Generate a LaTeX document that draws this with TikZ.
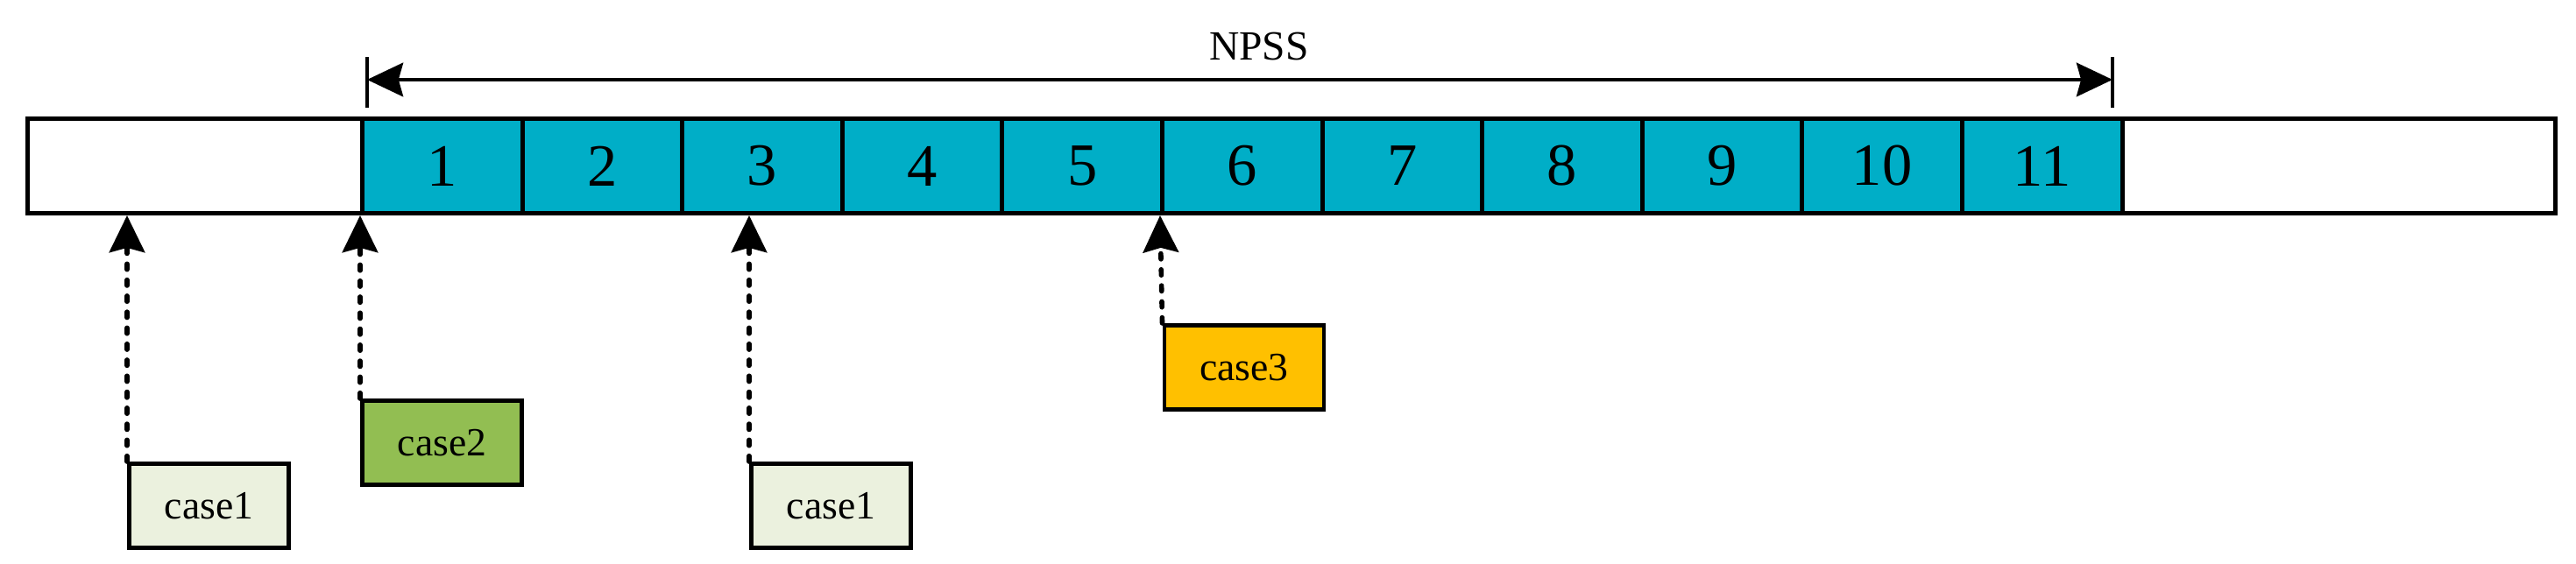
\documentclass[tikz,border=0pt]{standalone}
\usepackage{fontspec}
\setmainfont{Liberation Serif}
\usetikzlibrary{arrows.meta}
\definecolor{bleu}{RGB}{0,174,199}
\definecolor{vertclair}{RGB}{235,241,222}
\definecolor{vert}{RGB}{146,190,82}
\definecolor{jaune}{RGB}{255,192,0}
\tikzset{
  blanc/.style={draw, line width=1.4pt, minimum height=1.08cm, inner sep=0pt},
  cellule/.style={blanc, fill=bleu, minimum width=1.826cm, font=\fontsize{19.5}{22}\selectfont},
  casebox/.style={draw, line width=1.4pt, minimum width=1.82cm, minimum height=0.96cm, inner sep=0pt, anchor=north west, font=\fontsize{13}{15}\selectfont},
  pointille/.style={line width=1.6pt, dash pattern=on 1.8pt off 3.4pt, line cap=round, -{Stealth[length=12pt,width=11.5pt,inset=1.5pt]}}
}
\begin{document}
\begin{tikzpicture}
    \useasboundingbox (0,0) rectangle (29.4,6.44);
    % Barre
    \node[blanc, minimum width=3.82cm, anchor=south west] (gauche) at (0.29,3.98) {};
    \foreach \i in {1,...,11}
        \node[cellule, anchor=south west] (c\i) at ({4.11+(\i-1)*1.826},3.98) {\i};
    \node[blanc, minimum width=4.94cm, anchor=south west] (droite) at (24.2,3.98) {};
    % Fleche NPSS
    \coordinate (n1) at (4.19,5.53);
    \coordinate (n2) at (24.11,5.53);
    \draw[line width=1pt] (n1) ++(0,-0.32) -- ++(0,0.58);
    \draw[line width=1pt] (n2) ++(0,-0.32) -- ++(0,0.58);
    \draw[line width=1.1pt, {Stealth[length=11.7pt,width=11pt,inset=1.5pt]}-{Stealth[length=11.7pt,width=11pt,inset=1.5pt]}] (n1) -- (n2);
    \node[font=\fontsize{13.5}{16}\selectfont] (npss) at (14.37,5.91) {NPSS};
    % Cas
    \node[casebox, fill=vertclair] (cas1) at (1.45,1.17) {case1};
    \node[casebox, fill=vert] (cas2) at (4.11,1.89) {case2};
    \node[casebox, fill=vertclair] (cas3) at (8.55,1.17) {case1};
    \node[casebox, fill=jaune] (cas4) at (13.265,2.75) {case3};
    % Fleches pointillees
    \draw[pointille] (cas1.north west) -- (cas1.north west |- gauche.south);
    \draw[pointille] (cas2.north west) -- (c1.south west);
    \draw[pointille] (cas3.north west) -- (cas3.north west |- c3.south);
    \draw[pointille] (cas4.north west) -- (c6.south west);
\end{tikzpicture}
\end{document}
